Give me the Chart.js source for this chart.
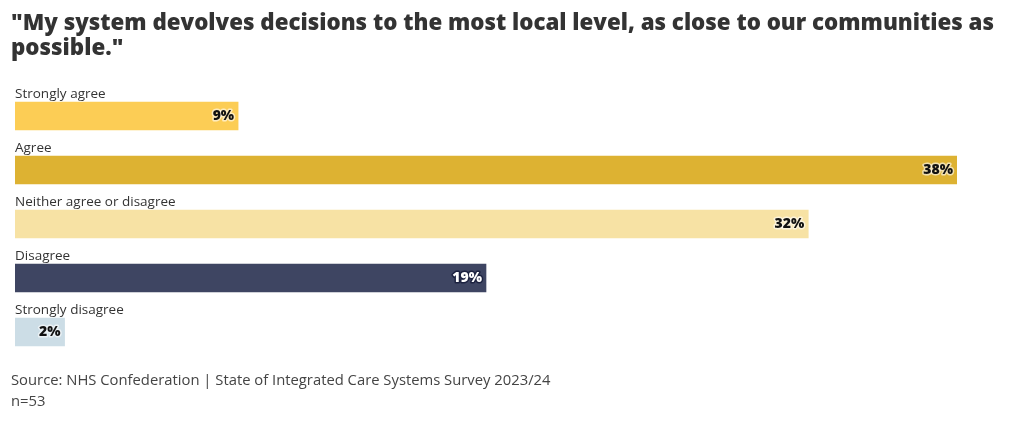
<!DOCTYPE html>
<html>
<head>
<meta charset="utf-8">
<script src="https://cdn.jsdelivr.net/npm/chart.js@4"></script>
<style>
  body { margin: 0; background: #fff; font-family: "Open Sans", sans-serif; }
  #wrap { position: relative; width: 1020px; height: 421px; }
  #title { position: absolute; left: 11px; top: 9px; white-space: nowrap; font-size: 22.3px; font-weight: 800; line-height: 25px; color: #333; }
  #source { position: absolute; left: 11px; top: 369px; font-size: 14.8px; line-height: 21px; color: #444; }
  #box { position: absolute; left: 0; top: 0; width: 1020px; height: 421px; }
</style>
</head>
<body>
<div id="wrap">
  <div id="box"><canvas id="barChart"></canvas></div>
  <div id="title">"My system devolves decisions to the most local level, as close to our communities as<br>possible."</div>
  <div id="source">Source: NHS Confederation | State of Integrated Care Systems Survey 2023/24<br>n=53</div>
</div>
<script>
// data
var categories = ["Strongly agree", "Agree", "Neither agree or disagree", "Disagree", "Strongly disagree"];
var percents = [9, 38, 32, 19, 2];
var barColors = ["#fccd55", "#ddb232", "#f7e2a4", "#3e4562", "#ccdde6"];

// labels above bars + values at bar ends
var barLabels = {
    id: "barLabels",
    afterDatasetsDraw: function(chart) {
        var ctx = chart.ctx;
        var meta = chart.getDatasetMeta(0);
        ctx.save();
        meta.data.forEach(function(bar, i) {
            var top = bar.y - bar.height / 2;
            ctx.font = "13.5px 'Open Sans'";
            ctx.fillStyle = "#333";
            ctx.textAlign = "left";
            ctx.textBaseline = "bottom";
            ctx.fillText(categories[i], chart.chartArea.left, top - 1);

            var txt = percents[i] + "%";
            ctx.font = "800 14px 'Open Sans'";
            ctx.textAlign = "right";
            ctx.textBaseline = "middle";
            ctx.lineWidth = 3;
            ctx.lineJoin = "round";
            var dark = i == 3;
            ctx.strokeStyle = dark ? "#1c2240" : "rgba(255,255,255,0.6)";
            ctx.strokeText(txt, bar.x - 4, bar.y);
            ctx.fillStyle = dark ? "#fff" : "#111";
            ctx.fillText(txt, bar.x - 4, bar.y);
        });
        ctx.restore();
    }
};

new Chart("barChart", {
    type: "bar",
    data: {
        labels: categories,
        datasets: [{
            data: percents,
            backgroundColor: barColors,
            barThickness: 28
        }]
    },
    options: {
        indexAxis: "y",
        responsive: true,
        maintainAspectRatio: false,
        animation: false,
        layout: {
            padding: { left: 15, right: 63, top: 89, bottom: 62 }
        },
        scales: {
            x: { display: false, min: 0, max: 38 },
            y: { display: false }
        },
        plugins: {
            legend: { display: false },
            tooltip: { enabled: false }
        }
    },
    plugins: [barLabels]
});
</script>
</body>
</html>
